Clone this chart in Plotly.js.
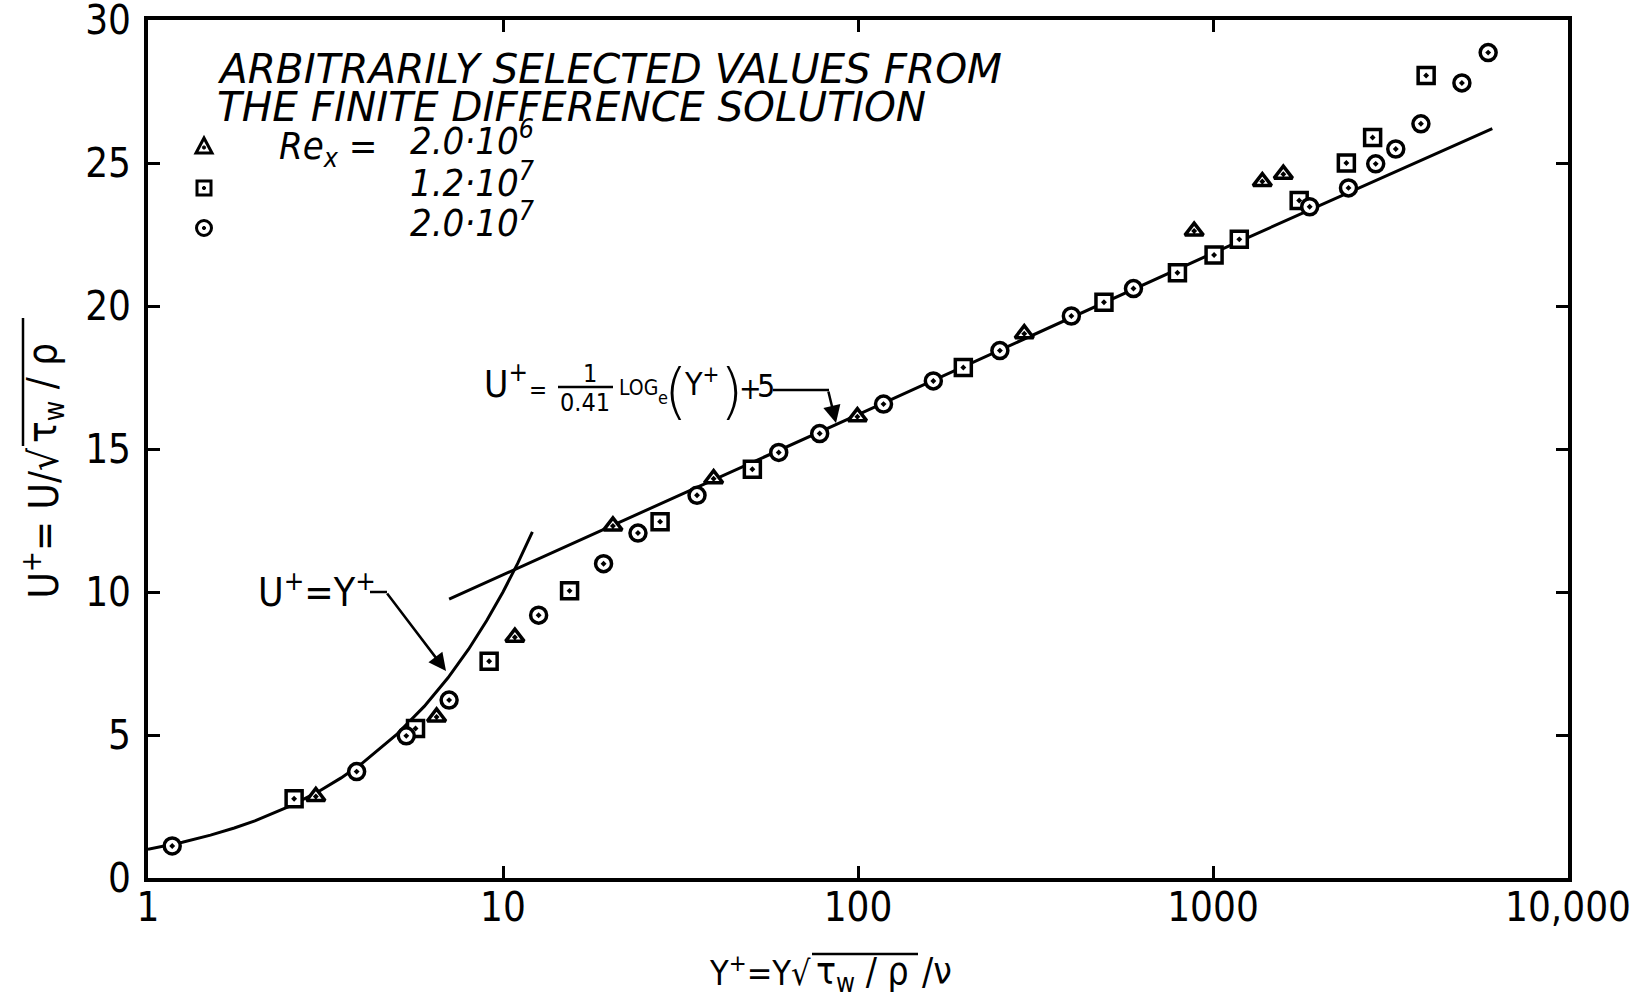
<!DOCTYPE html>
<html><head><meta charset="utf-8">
<script src="https://cdn.plot.ly/plotly-3.0.1.min.js"></script>
<style>html,body{margin:0;padding:0;background:#fff}</style>
</head><body><div id="chart" style="width:1646px;height:999px"></div>
<script>
// ---- data ----
const triX  = [2.97, 6.5, 10.8, 20.4, 39.2, 99.6, 294, 885, 1377, 1578];
const triY  = [2.85, 5.63, 8.42, 12.31, 13.96, 16.13, 19.03, 22.62, 24.35, 24.61];
const sqX   = [2.58, 5.67, 9.14, 15.4, 27.7, 50.4, 198, 493, 794, 1007, 1186, 1749, 2375, 2816, 3985];
const sqY   = [2.77, 5.23, 7.58, 10.04, 12.46, 14.29, 17.85, 20.13, 21.16, 21.78, 22.33, 23.69, 25.0, 25.89, 28.06];
const circX = [1.17, 3.87, 5.34, 7.05, 12.6, 19.2, 24.0, 35.2, 59.8, 78, 118, 163, 251, 399, 597, 1872, 2408, 2873, 3272, 3852, 5025, 5958];
const circY = [1.12, 3.72, 4.97, 6.22, 9.19, 10.99, 12.06, 13.38, 14.88, 15.54, 16.57, 17.38, 18.44, 19.65, 20.61, 23.47, 24.13, 24.97, 25.49, 26.37, 27.80, 28.86];
const viscX = [1, 1.25, 1.5, 1.75, 2, 2.5, 3, 3.5, 4, 5, 6, 7, 8, 9, 10, 11, 12.1];
const viscY = [1, 1.25, 1.5, 1.75, 2, 2.5, 3, 3.5, 4, 5, 6, 7, 8, 9, 10, 11, 12.1];
const logX  = [7.05, 10, 100, 1000, 6120];
const logY  = [9.75, 10.6, 16.2, 21.85, 26.2];
const xTickVals = [1, 10, 100, 1000, 10000];
const xTickText = ["1", "10", "100", "1000", "10,000"];
const yTickVals = [0, 5, 10, 15, 20, 25, 30];
const seriesNames = ["Re<sub>x</sub> = 2.0·10<sup>6</sup>", "Re<sub>x</sub> = 1.2·10<sup>7</sup>", "Re<sub>x</sub> = 2.0·10<sup>7</sup>"];
const keyNumbers = ["2.0·10<sup>6</sup>", "1.2·10<sup>7</sup>", "2.0·10<sup>7</sup>"];

// ---- layout helpers ----
const FONT = "DejaVu Sans Condensed, DejaVu Sans, sans-serif";
const FONTW = "DejaVu Sans, sans-serif";
const L = 148, R = 1568, T = 20, B = 878;
const px = x => (x - L) / (R - L);
const py = y => (B - y) / (B - T);
function ann(text, x, y, size, o) {
  o = o || {};
  return Object.assign({
    text: text, xref: 'paper', yref: 'paper', x: px(x), y: py(y),
    xanchor: o.xa || 'left', yanchor: o.ya || 'middle', showarrow: false,
    textangle: o.angle || 0,
    font: {family: o.family || FONT, size: size, color: '#000',
           style: o.italic ? 'italic' : 'normal', weight: o.weight || 'normal'}
  }, o.extra || {});
}
function seg(x0, y0, x1, y1, w) {
  return {type: 'line', xref: 'paper', yref: 'paper', x0: px(x0), y0: py(y0), x1: px(x1), y1: py(y1),
          line: {color: '#000', width: w || 2.5}};
}
function box(type, cx, cy, h, w, fill) {
  return {type: type, xref: 'paper', yref: 'paper', x0: px(cx - h), x1: px(cx + h), y0: py(cy + h), y1: py(cy - h),
          line: {color: '#000', width: w}, fillcolor: fill || 'rgba(0,0,0,0)'};
}
function tri(cx, cy, h, w) {
  const p = [[cx - h - 1, cy + h], [cx + h + 1, cy + h], [cx, cy - h - 1]];
  return {type: 'path', xref: 'paper', yref: 'paper',
          path: 'M' + p.map(q => px(q[0]) + ',' + py(q[1])).join('L') + 'Z',
          line: {color: '#000', width: w}};
}

const mk = (sym) => ({symbol: sym, size: 16, color: '#fff', line: {color: '#000', width: 3.5}});
const traces = [
  {x: viscX, y: viscY, mode: 'lines', line: {color: '#000', width: 3}, showlegend: false, name: 'U+ = Y+'},
  {x: logX, y: logY, mode: 'lines', line: {color: '#000', width: 3}, showlegend: false, name: 'log law'},
  {x: triX, y: triY, mode: 'markers', marker: mk('triangle-up-dot'), name: seriesNames[0], showlegend: false},
  {x: sqX, y: sqY, mode: 'markers', marker: mk('square-dot'), name: seriesNames[1], showlegend: false},
  {x: circX, y: circY, mode: 'markers', marker: mk('circle-dot'), name: seriesNames[2], showlegend: false}
];

const keyRowsY = [146, 188, 228];
const annotations = [
  ann('ARBITRARILY SELECTED VALUES FROM', 215, 69, 40.5, {italic: true, family: FONTW}),
  ann('THE FINITE DIFFERENCE SOLUTION', 215, 107, 40.5, {italic: true, family: FONTW}),
  ann('Re<sub>x</sub> =', 277, 148, 38, {italic: true}),
  ann(keyNumbers[0], 408, 138, 38, {italic: true}),
  ann(keyNumbers[1], 408, 180, 38, {italic: true}),
  ann(keyNumbers[2], 408, 220, 38, {italic: true}),
  // viscous sublayer label
  ann('U<sup>+</sup>=Y<sup>+</sup>', 256, 590, 39),
  {x: px(446), y: py(671), xref: 'paper', yref: 'paper', ax: -60, ay: -79, text: '',
   showarrow: true, arrowhead: 2, arrowsize: 1.4, arrowwidth: 2.5, arrowcolor: '#000'},
  // log law label
  ann('U<sup>+</sup>', 482, 381, 37),
  ann('=', 527, 390, 24),
  ann('1', 590, 373, 25, {xa: 'center'}),
  ann('0.41', 585, 402, 25, {xa: 'center'}),
  ann('LOG', 617, 388, 21),
  ann('e', 656, 398, 18),
  ann('(', 662, 391, 60, {weight: 200, family: FONTW}),
  ann('Y<sup>+</sup>', 682, 382, 32),
  ann(')', 718, 391, 60, {weight: 200, family: FONTW}),
  ann('+', 737, 388, 30),
  ann('5', 755, 386, 32),
  {x: px(836), y: py(423), xref: 'paper', yref: 'paper', ax: -8, ay: -33, text: '',
   showarrow: true, arrowhead: 2, arrowsize: 1.4, arrowwidth: 2.5, arrowcolor: '#000'},
  // x axis title (radical drawn with a vinculum shape)
  ann('Y<sup>+</sup>=Y√', 813, 971, 34, {xa: 'right'}),
  ann('τ<sub>w</sub> / ρ', 814, 974, 37),
  ann('/ν', 920, 971, 37),
  // y axis title
  ann('U<sup>+</sup>= U/√', 41, 446, 40, {angle: -90, xa: 'center', ya: 'top'}),
  ann('τ<sub>w</sub> / ρ', 45, 445, 40, {angle: -90, xa: 'center', ya: 'bottom'})
];

const shapes = [
  seg(370, 592, 387, 592),
  seg(558, 387, 613, 387),
  seg(773, 390, 829, 390),
  // vinculum of the radicals
  seg(812, 954, 918, 954, 2.5),
  seg(23, 446, 23, 318, 2.5),
  // key symbols
  tri(204, keyRowsY[0], 7, 3), box('circle', 204, keyRowsY[0] + 1.5, 1.6, 1, '#000'),
  box('rect', 204, keyRowsY[1], 7, 3), box('circle', 204, keyRowsY[1], 1.6, 1, '#000'),
  box('circle', 204, keyRowsY[2], 7.5, 3), box('circle', 204, keyRowsY[2], 1.6, 1, '#000')
];

const axisCommon = {
  showline: true, linewidth: 4, linecolor: '#000', mirror: 'ticks',
  ticks: 'inside', ticklen: 12, tickwidth: 3, tickcolor: '#000',
  showgrid: false, zeroline: false, ticklabeloverflow: 'allow',
  tickfont: {family: FONT, size: 40, color: '#000'}
};

const layout = {
  width: 1646, height: 999,
  margin: {l: L, r: 1646 - R, t: T, b: 999 - B},
  paper_bgcolor: '#fff', plot_bgcolor: '#fff',
  showlegend: false,
  xaxis: Object.assign({}, axisCommon, {
    type: 'log', range: [0, 4], tickmode: 'array', tickvals: xTickVals, ticktext: xTickText,
    ticklabelstandoff: -9
  }),
  yaxis: Object.assign({}, axisCommon, {
    range: [0, 30], tickmode: 'array', tickvals: yTickVals, ticklabelstandoff: 5
  }),
  annotations: annotations,
  shapes: shapes
};

Plotly.newPlot('chart', traces, layout, {displayModeBar: false, staticPlot: true});
</script>
</body></html>
